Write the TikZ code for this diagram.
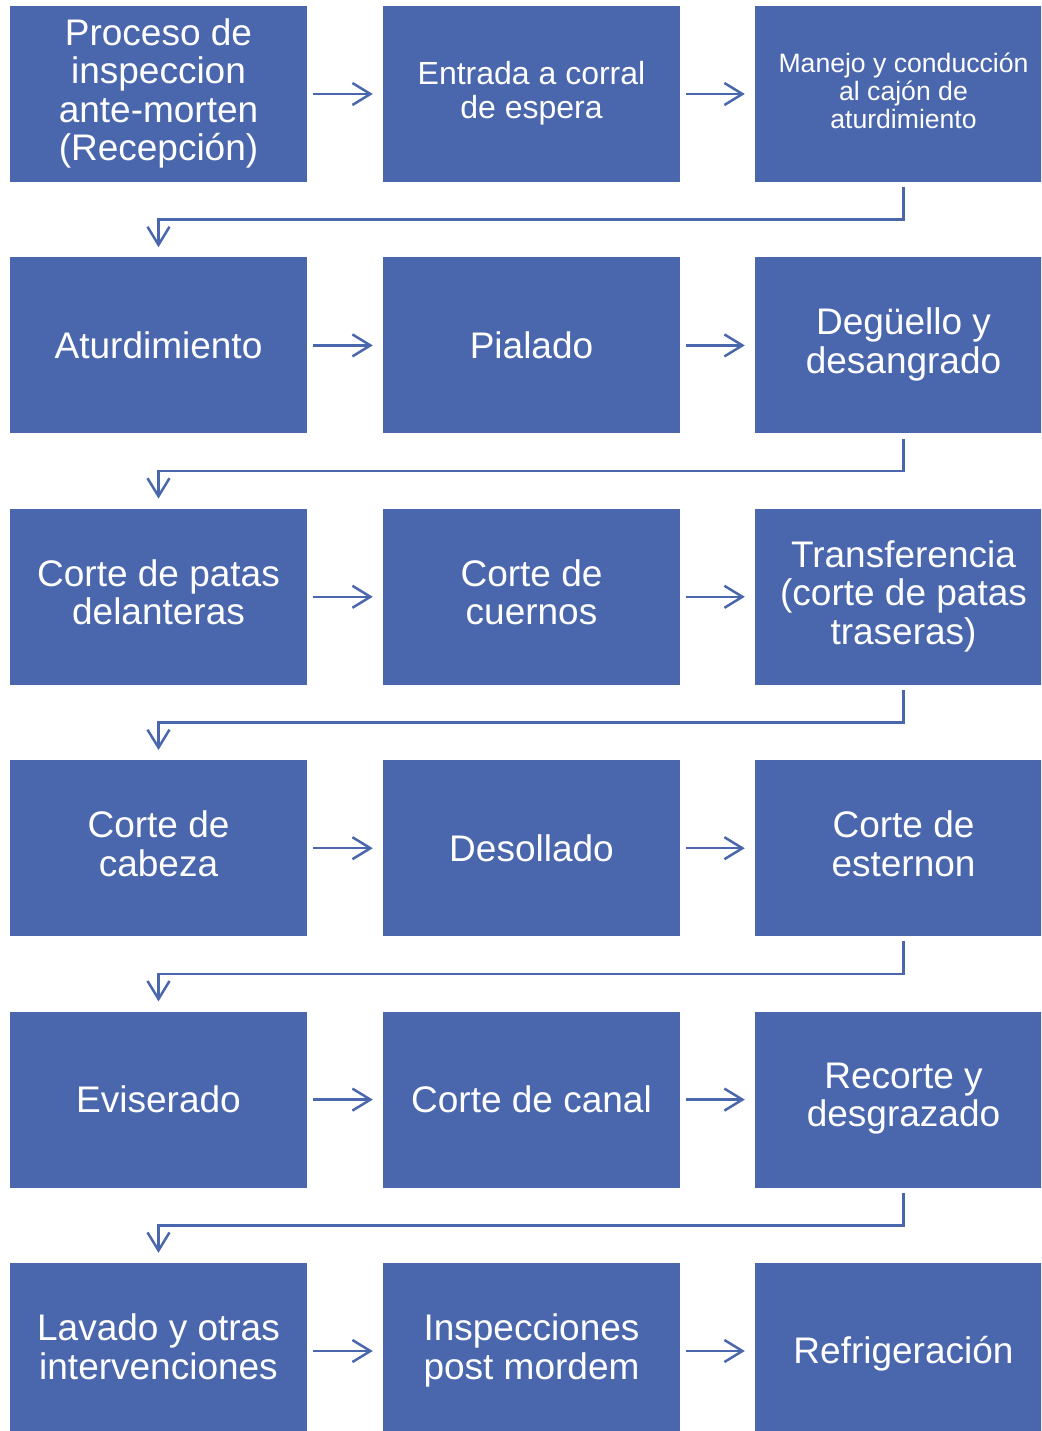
\documentclass[tikz,border=0pt]{standalone}
\usepackage{fontspec}
\setmainfont{Liberation Sans}
\usetikzlibrary{arrows.meta}
\definecolor{boxblue}{RGB}{74,103,173}
\begin{document}
\begin{tikzpicture}[x=1pt,y=-1pt,
  proc/.style={fill=boxblue, text=white, minimum width=297pt, minimum height=176pt,
    inner sep=0pt, align=center, font=\fontsize{37}{38.5}\selectfont,
    execute at begin node={\rule{0pt}{0.95em}},
    execute at end node={\rule[-0.25em]{0pt}{0.25em}}},
  midtxt/.style={font=\fontsize{32}{34}\selectfont},
  smalltxt/.style={font=\fontsize{26.6}{27.6}\selectfont},
  flow/.style={draw=boxblue, line width=2.5pt, -{Straight Barb[length=18pt,width=22pt]}},
  hflow/.style={flow, shorten <=6pt, shorten >=10pt},
  vflow/.style={flow, shorten <=5pt, shorten >=10pt}]
\useasboundingbox (0,0) rectangle (1041,1431);
\clip (0,0) rectangle (1041,1431);
\def\ca{158.5}\def\cb{531.5}\def\cc{903.5}
% row 1
\node[proc] (a1) at (\ca,94) {Proceso de\\inspeccion\\ante-morten\\(Recepción)};
\node[proc,midtxt] (a2) at (\cb,94) {Entrada a corral\\de espera};
\node[proc,smalltxt] (a3) at (\cc,94) {Manejo y conducción\\al cajón de\\aturdimiento};
% row 2
\node[proc] (b1) at (\ca,345.4) {Aturdimiento};
\node[proc] (b2) at (\cb,345.4) {Pialado};
\node[proc] (b3) at (\cc,345.4) {Degüello y\\desangrado};
% row 3
\node[proc] (c1) at (\ca,596.8) {Corte de patas\\delanteras};
\node[proc] (c2) at (\cb,596.8) {Corte de\\cuernos};
\node[proc] (c3) at (\cc,596.8) {Transferencia\\(corte de patas\\traseras)};
% row 4
\node[proc] (d1) at (\ca,848.2) {Corte de\\cabeza};
\node[proc] (d2) at (\cb,848.2) {Desollado};
\node[proc] (d3) at (\cc,848.2) {Corte de\\esternon};
% row 5
\node[proc] (e1) at (\ca,1099.6) {Eviserado};
\node[proc] (e2) at (\cb,1099.6) {Corte de canal};
\node[proc] (e3) at (\cc,1099.6) {Recorte y\\desgrazado};
% row 6
\node[proc] (f1) at (\ca,1351) {Lavado y otras\\intervenciones};
\node[proc] (f2) at (\cb,1351) {Inspecciones\\post mordem};
\node[proc] (f3) at (\cc,1351) {Refrigeración};
% horizontal arrows
\foreach \r in {a,b,c,d,e,f}{
  \draw[hflow] (\r1) -- (\r2);
  \draw[hflow] (\r2) -- (\r3);
}
% row-to-row connectors
\draw[vflow] (a3.south) -- ++(0,37.5) -| (b1.north);
\draw[vflow] (b3.south) -- ++(0,37.5) -| (c1.north);
\draw[vflow] (c3.south) -- ++(0,37.5) -| (d1.north);
\draw[vflow] (d3.south) -- ++(0,37.5) -| (e1.north);
\draw[vflow] (e3.south) -- ++(0,37.5) -| (f1.north);
\end{tikzpicture}
\end{document}
